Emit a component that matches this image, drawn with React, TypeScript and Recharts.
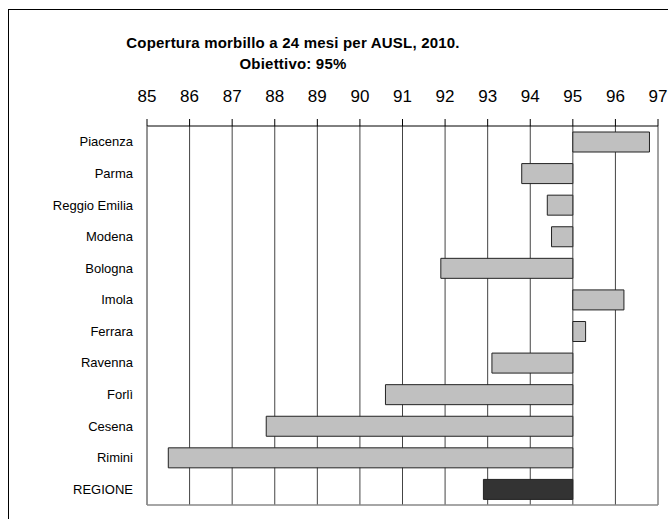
import { Bar, BarChart, CartesianGrid, Cell, XAxis, YAxis } from 'recharts';

const CATEGORIES = [
  'Piacenza',
  'Parma',
  'Reggio Emilia',
  'Modena',
  'Bologna',
  'Imola',
  'Ferrara',
  'Ravenna',
  'Forlì',
  'Cesena',
  'Rimini',
  'REGIONE',
];
const COVERAGE = [96.8, 93.8, 94.4, 94.5, 91.9, 96.2, 95.3, 93.1, 90.6, 87.8, 85.5, 92.9];
const TARGET = 95;
const X_TICKS = [85, 86, 87, 88, 89, 90, 91, 92, 93, 94, 95, 96, 97];

const data = CATEGORIES.map((name, i) => ({
  name,
  range: [Math.min(TARGET, COVERAGE[i]), Math.max(TARGET, COVERAGE[i])],
}));

const FONT = '"Liberation Sans", Arial, sans-serif';

export default function App() {
  return (
    <div style={{ position: 'fixed', left: 0, top: 0, width: 668, height: 519, overflow: 'hidden', background: '#fff', fontFamily: FONT }}>
      <div style={{ position: 'absolute', left: 8, top: 9, width: 720, height: 600, border: '1px solid #000' }} />
      <div style={{ position: 'absolute', left: 0, top: 32, width: 586, textAlign: 'center', fontWeight: 'bold', fontSize: 15, lineHeight: '21px', color: '#000', letterSpacing: 0.2 }}>
        Copertura morbillo a 24 mesi per AUSL, 2010.
        <br />
        Obiettivo: 95%
      </div>
      <div style={{ position: 'absolute', left: 0, top: 0 }}>
        <BarChart
          width={668}
          height={519}
          data={data}
          layout="vertical"
          margin={{ top: 86, right: 10, bottom: 14, left: 0 }}
          barCategoryGap="19%"
        >
          <CartesianGrid horizontal={false} stroke="#444" strokeWidth={1} />
          <CartesianGrid
            vertical={false}
            stroke="#888"
            strokeWidth={1.5}
            horizontalCoordinatesGenerator={({ offset }: any) => [offset.top + offset.height]}
          />
          <XAxis
            type="number"
            orientation="top"
            domain={[85, 97]}
            ticks={X_TICKS}
            interval={0}
            allowDataOverflow
            axisLine={{ stroke: '#000' }}
            tickLine={{ stroke: '#000' }}
            tickSize={7}
            tickMargin={17}
            height={40}
            tick={{ fill: '#000', fontSize: 17, fontFamily: FONT }}
          />
          <YAxis
            type="category"
            dataKey="name"
            width={147}
            axisLine={{ stroke: '#888' }}
            tickLine={false}
            tickSize={0}
            tickMargin={14}
            interval={0}
            tick={{ fill: '#000', fontSize: 13, fontFamily: FONT }}
          />
          <Bar dataKey="range" fill="#c0c0c0" stroke="#222" strokeWidth={1} isAnimationActive={false}>
            {data.map((d) => (
              <Cell key={d.name} fill={d.name === 'REGIONE' ? '#333333' : '#c0c0c0'} />
            ))}
          </Bar>
        </BarChart>
      </div>
    </div>
  );
}
